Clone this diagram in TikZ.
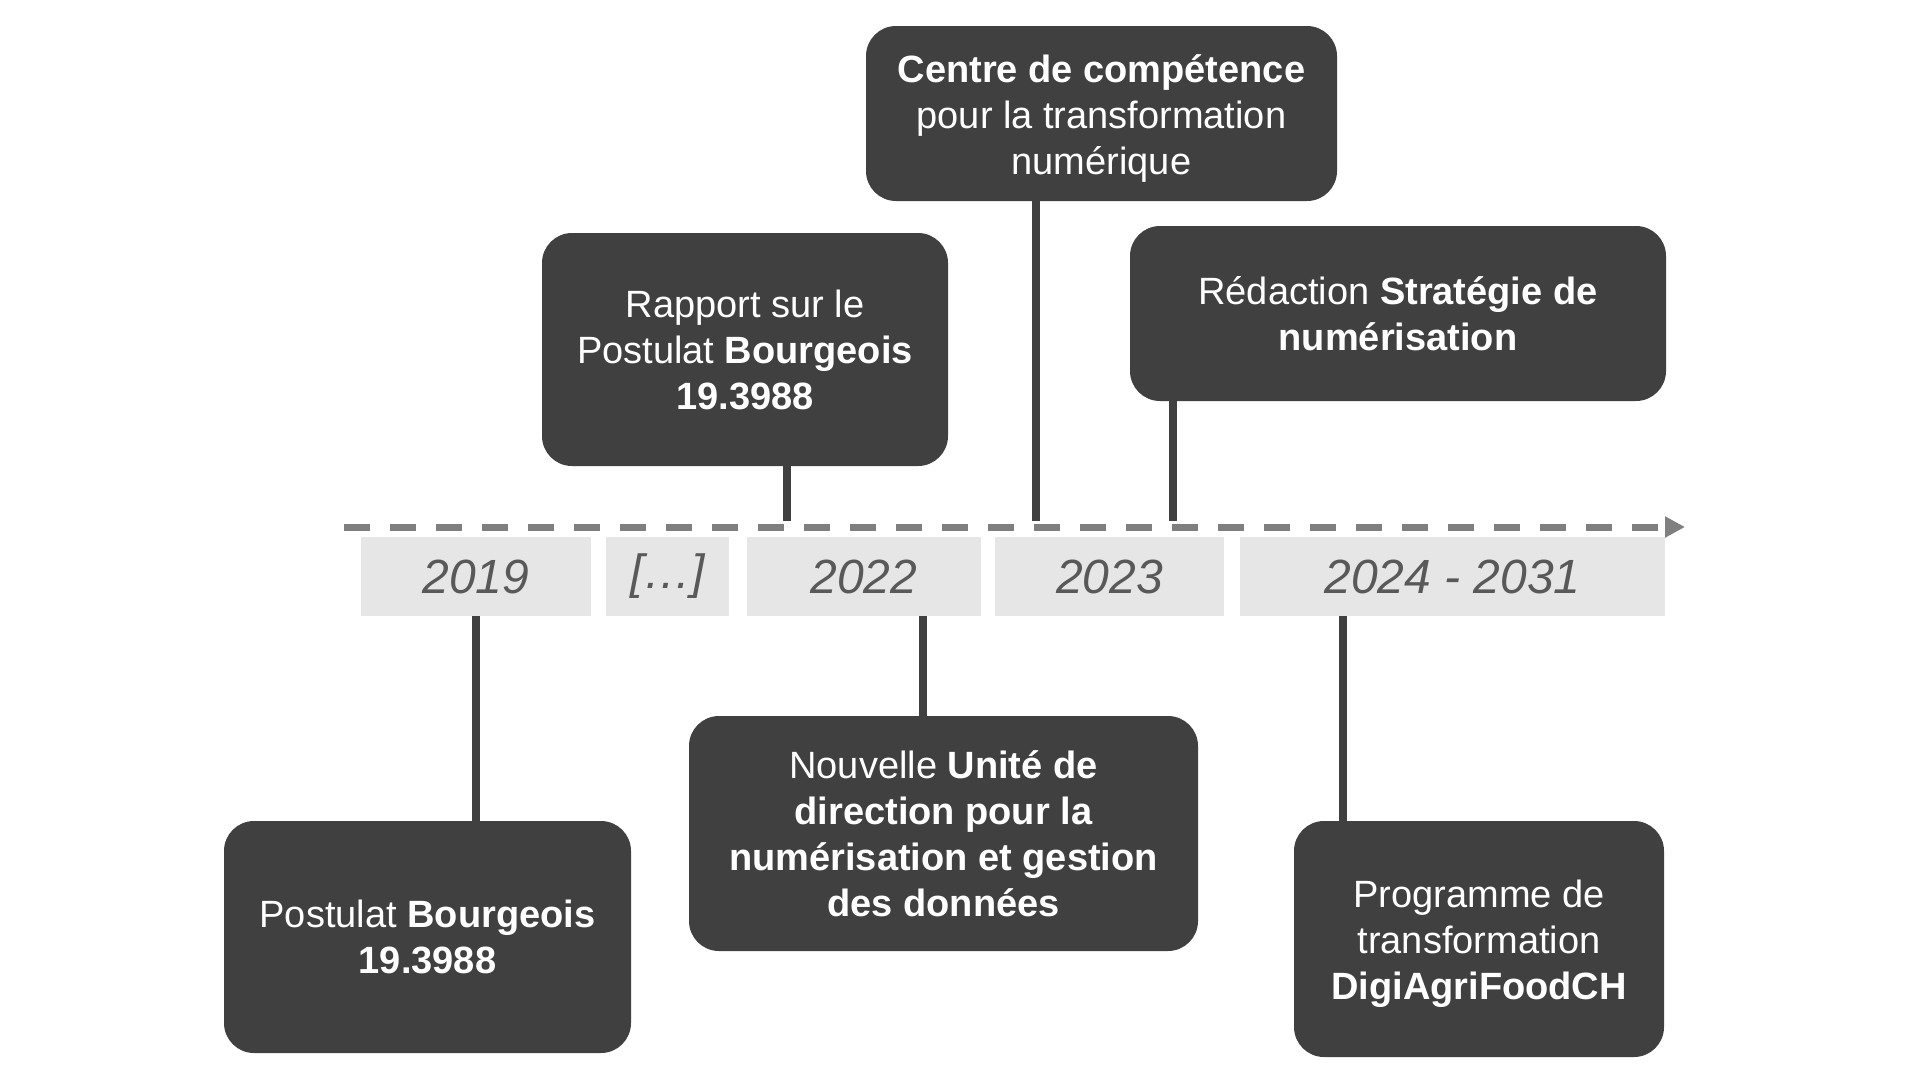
\documentclass[tikz,border=0pt]{standalone}
\usepackage{fontspec}
\setmainfont{Liberation Sans}
\usetikzlibrary{arrows.meta}
\definecolor{boxdark}{HTML}{404040}
\definecolor{yearfill}{HTML}{E7E6E6}
\definecolor{yeartext}{HTML}{595959}
\definecolor{axisgray}{HTML}{7F7F7F}
\newcommand{\dropline}{\rule{0pt}{38pt}}
\begin{document}
\begin{tikzpicture}[x=1pt,y=-1pt,
  evbox/.style={fill=boxdark, rounded corners=30pt, inner sep=0pt, text=white, align=center,
    font=\fontsize{38}{46}\selectfont},
  yearbox/.style={fill=yearfill, inner sep=0pt, minimum height=79pt, text=yeartext,
    font=\fontsize{48}{56}\selectfont\itshape},
  conn/.style={draw=boxdark, line width=8pt},
  axis/.style={draw=axisgray, line width=7pt, dash pattern=on 26pt off 20pt,
    -{Triangle[length=20pt,width=20pt]}}]
\useasboundingbox[fill=white] (0,0) rectangle (1920,1080);

% timeline
\coordinate (ax0) at (344,527);
\coordinate (ax1) at (1685,527);
\draw[axis] (ax0) -- (ax1);

% year boxes
\node[yearbox, minimum width=230pt] (y2019) at (476,576.5) {2019};
\node[yearbox, minimum width=123pt] (ydots) at (667.5,576.5) {[…]};
\node[yearbox, minimum width=234pt] (y2022) at (864,576.5) {2022};
\node[yearbox, minimum width=229pt] (y2023) at (1109.5,576.5) {2023};
\node[yearbox, minimum width=425pt] (y2024) at (1452.5,576.5) {2024 - 2031};

% event boxes
\node[evbox, minimum width=471pt, minimum height=175pt] (cen) at (1101.5,113.5)
  {\dropline\textbf{Centre de compétence}\\pour la transformation\\numérique};
\node[evbox, minimum width=406pt, minimum height=233pt] (rap) at (745,349.5)
  {Rapport sur le\\Postulat \textbf{Bourgeois}\\\textbf{19.3988}};
\node[evbox, minimum width=536pt, minimum height=175pt] (red) at (1398,313.5)
  {Rédaction \textbf{Stratégie de}\\\textbf{numérisation}};
\node[evbox, minimum width=407pt, minimum height=232pt] (pb) at (427.5,937)
  {Postulat \textbf{Bourgeois}\\\textbf{19.3988}};
\node[evbox, minimum width=509pt, minimum height=235pt] (nou) at (943.5,833.5)
  {Nouvelle \textbf{Unité de}\\\textbf{direction pour la}\\\textbf{numérisation et gestion}\\\textbf{des données}};
\node[evbox, minimum width=370pt, minimum height=236pt] (prg) at (1479,939)
  {\dropline Programme de\\transformation\\\textbf{DigiAgriFoodCH}};

% connector anchor points on the timeline
\coordinate (trap) at (787,521);
\coordinate (tcen) at (1036,521);
\coordinate (tred) at (1173,521);
\coordinate (c2022) at (923,0);
\coordinate (c2024) at (1343,0);

\draw[conn] (rap.south -| trap) -- (trap);
\draw[conn] (cen.south -| tcen) -- (tcen);
\draw[conn] (red.south -| tred) -- (tred);
\draw[conn] (y2019.south) -- (y2019.south |- pb.north);
\draw[conn] (y2022.south -| c2022) -- (nou.north -| c2022);
\draw[conn] (y2024.south -| c2024) -- (prg.north -| c2024);
\end{tikzpicture}
\end{document}
